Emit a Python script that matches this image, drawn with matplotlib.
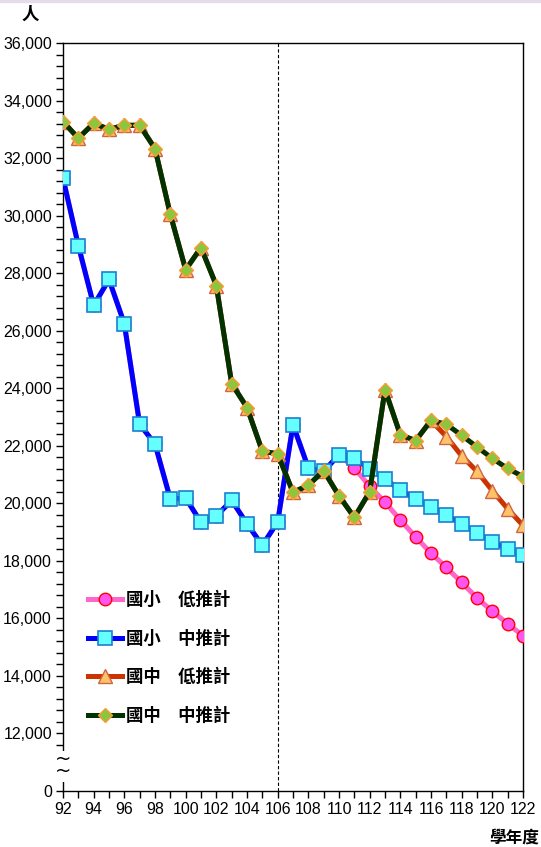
import matplotlib
matplotlib.use("Agg")
import matplotlib.pyplot as plt
from matplotlib.patches import Rectangle
from matplotlib.ticker import MultipleLocator, FuncFormatter

years = list(range(92, 123))

# 國小 低推計
elem_low = [31300, 28960, 26880, 27780, 26240, 22750, 22060, 20150, 20180, 19340,
            19560, 20100, 19290, 18540, 19350, 22730, 21230, 21110, 21690, 21230,
            20590, 20040, 19420, 18830, 18270, 17770, 17250, 16710, 16250, 15810,
            15400]
# 國小 中推計
elem_mid = [31300, 28960, 26880, 27780, 26240, 22750, 22060, 20150, 20180, 19340,
            19560, 20100, 19290, 18540, 19350, 22730, 21230, 21110, 21690, 21560,
            21190, 20840, 20470, 20150, 19860, 19590, 19280, 18970, 18650, 18420,
            18190]
# 國中 低推計
junior_low = [33270, 32690, 33210, 33000, 33140, 33140, 32330, 30040, 28120, 28890,
              27570, 24160, 23330, 21810, 21720, 20380, 20630, 21130, 20260, 19510,
              20400, 23950, 22380, 22180, 22880, 22320, 21650, 21110, 20440, 19810,
              19230]
# 國中 中推計
junior_mid = [33270, 32690, 33210, 33000, 33140, 33140, 32330, 30040, 28120, 28890,
              27570, 24160, 23330, 21810, 21720, 20380, 20630, 21130, 20260, 19510,
              20400, 23950, 22380, 22180, 22880, 22750, 22360, 21960, 21560, 21210,
              20930]

labels = ["國小　低推計", "國小　中推計", "國中　低推計", "國中　中推計"]
cjk = ["Noto Sans CJK TC", "DejaVu Sans"]
num_font = ["Liberation Sans Narrow", "Liberation Sans", "DejaVu Sans"]

fig = plt.figure(figsize=(5.41, 8.47), dpi=100)
fig.patches.append(Rectangle((0, 0.9975), 1, 0.0025, transform=fig.transFigure,
                             color="#e4dcec", zorder=0))
ax = fig.add_axes([63 / 541, 1 - 791 / 847, 460 / 541, 748 / 847])

ax.plot(years, elem_low, color="#ff66cc", lw=3.6, marker="o", ms=9,
        mfc="#ff55ee", mec="#ff0000", mew=1.0, label=labels[0], zorder=3)
ax.plot(years, elem_mid, color="#0000ff", lw=3.6, marker="s", ms=9.5,
        mfc="#66ffff", mec="#1a7fd0", mew=1.2, label=labels[1], zorder=4)
ax.plot(years, junior_low, color="#cc3300", lw=3.6, marker="^", ms=9.5,
        mfc="#ffc266", mec="#cc6644", mew=1.0, label=labels[2], zorder=5)
ax.plot(years, junior_mid, color="#003300", lw=3.6, marker="D", ms=7.5,
        mfc="#8cc63f", mec="#ff9933", mew=1.0, label=labels[3], zorder=6)

ax.axvline(106, color="black", lw=0.8, ls=(0, (3, 2)), zorder=2)

ax.set_xlim(92, 122)
ax.set_ylim(10000, 36000)
ax.xaxis.set_major_locator(MultipleLocator(2))
ax.xaxis.set_minor_locator(MultipleLocator(1))
ax.set_yticks(list(range(12000, 36001, 2000)) + [10000])
ax.yaxis.set_minor_locator(MultipleLocator(400))
ax.yaxis.set_major_formatter(FuncFormatter(lambda v, p: "0" if v <= 10000 else f"{int(v):,}"))
ax.tick_params(axis="both", which="both", direction="out", length=5, width=1,
               labelsize=11.5, pad=3)
for lab in ax.get_xticklabels() + ax.get_yticklabels():
    lab.set_family(num_font)
for s in ax.spines.values():
    s.set_linewidth(1.0)

# break mark on the y axis
ax.add_patch(Rectangle((91.5, 10300), 1.0, 1100, facecolor="white", edgecolor="none",
                       clip_on=False, zorder=7))
ax.text(92, 10900, "~\n~", ha="center", va="center", fontsize=14, linespacing=0.55,
        family="DejaVu Sans", zorder=8)

leg = ax.legend(loc="upper left", bbox_to_anchor=(0.02, 0.288), frameon=False,
                prop={"family": cjk, "weight": "bold", "size": 12.5},
                handlelength=1.95, handletextpad=0.25, labelspacing=1.18)

fig.text(30 / 541, 1 - 15 / 847, "人", family=cjk, weight="bold", fontsize=12.5,
         ha="center", va="center")
fig.text(514 / 541, 1 - 838 / 847, "學年度", family=cjk, weight="bold", fontsize=12,
         ha="center", va="center")

fig.savefig("out.png", dpi=100)
